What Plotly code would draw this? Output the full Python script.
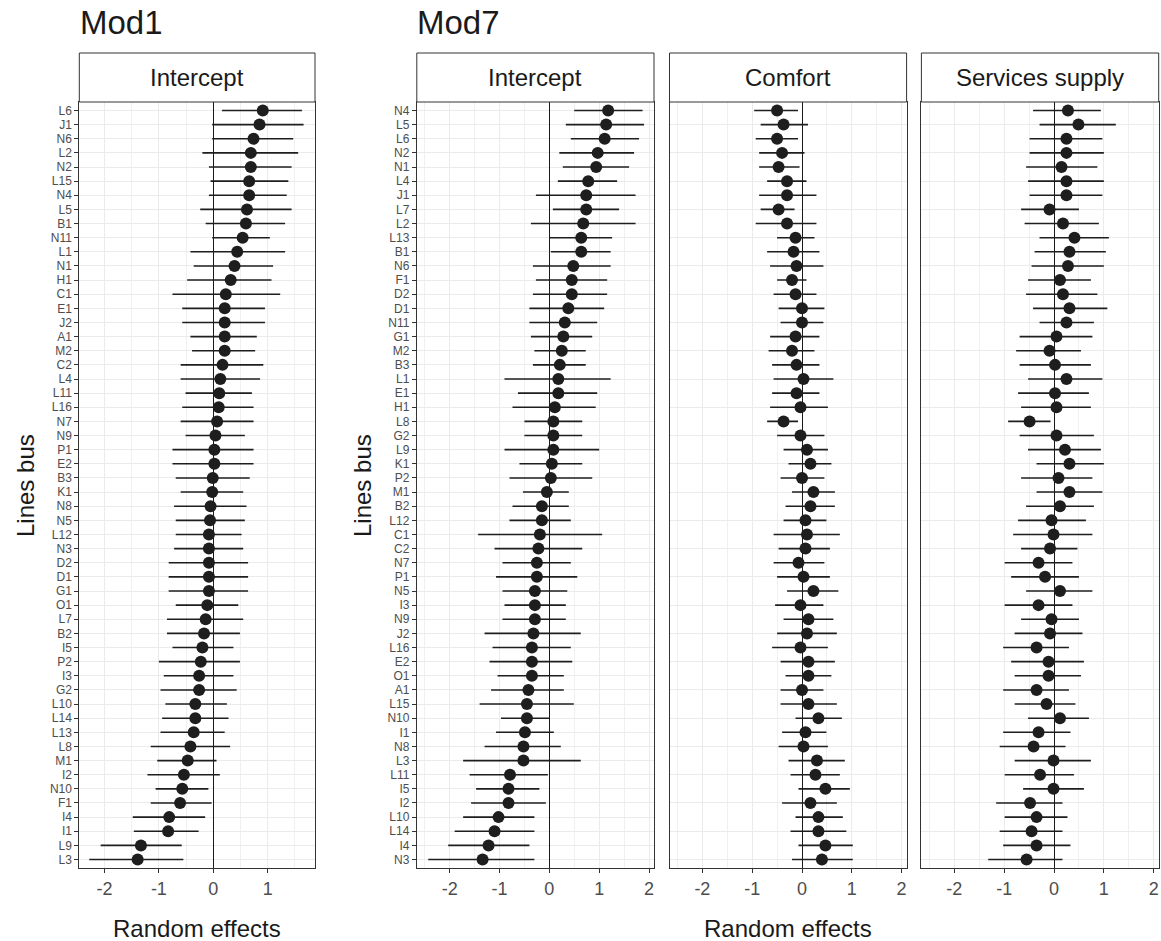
import plotly.graph_objects as go

# ---------------- data ----------------
mod1_lines = ["L6", "J1", "N6", "L2", "N2", "L15", "N4", "L5", "B1", "N11", "L1", "N1", "H1", "C1",
              "E1", "J2", "A1", "M2", "C2", "L4", "L11", "L16", "N7", "N9", "P1", "E2", "B3", "K1",
              "N8", "N5", "L12", "N3", "D2", "D1", "G1", "O1", "L7", "B2", "I5", "P2", "I3", "G2",
              "L10", "L14", "L13", "L8", "M1", "I2", "N10", "F1", "I4", "I1", "L9", "L3"]
mod1_est = [0.91, 0.85, 0.74, 0.69, 0.69, 0.66, 0.66, 0.62, 0.60, 0.54, 0.44, 0.39, 0.32, 0.23,
            0.21, 0.21, 0.21, 0.21, 0.17, 0.13, 0.11, 0.10, 0.07, 0.04, 0.02, 0.02, -0.01, -0.02,
            -0.05, -0.06, -0.08, -0.08, -0.08, -0.08, -0.08, -0.11, -0.14, -0.17, -0.20, -0.23, -0.26, -0.26,
            -0.33, -0.33, -0.36, -0.42, -0.47, -0.54, -0.57, -0.61, -0.81, -0.83, -1.33, -1.39]
mod1_lo = [0.16, -0.02, -0.02, -0.20, -0.08, -0.05, -0.08, -0.24, -0.14, -0.02, -0.42, -0.36, -0.48, -0.75,
           -0.57, -0.57, -0.42, -0.39, -0.60, -0.60, -0.51, -0.57, -0.60, -0.51, -0.75, -0.75, -0.69, -0.60,
           -0.72, -0.69, -0.69, -0.72, -0.82, -0.82, -0.82, -0.69, -0.85, -0.85, -0.75, -1.00, -0.91, -0.97,
           -0.88, -0.94, -0.97, -1.15, -1.03, -1.21, -1.06, -1.15, -1.48, -1.46, -2.07, -2.28]
mod1_hi = [1.63, 1.66, 1.47, 1.56, 1.44, 1.38, 1.35, 1.44, 1.32, 1.04, 1.32, 1.10, 1.07, 1.23,
           0.95, 0.95, 0.80, 0.77, 0.92, 0.86, 0.71, 0.74, 0.74, 0.58, 0.74, 0.74, 0.67, 0.55,
           0.61, 0.58, 0.52, 0.55, 0.64, 0.64, 0.64, 0.46, 0.55, 0.49, 0.37, 0.49, 0.37, 0.43,
           0.25, 0.28, 0.21, 0.31, 0.06, 0.12, -0.09, -0.03, -0.15, -0.27, -0.58, -0.55]

mod7_lines = ["N4", "L5", "L6", "N2", "N1", "L4", "J1", "L7", "L2", "L13", "B1", "N6", "F1", "D2",
              "D1", "N11", "G1", "M2", "B3", "L1", "E1", "H1", "L8", "G2", "L9", "K1", "P2", "M1",
              "B2", "L12", "C1", "C2", "N7", "P1", "N5", "I3", "N9", "J2", "L16", "E2", "O1", "A1",
              "L15", "N10", "I1", "N8", "L3", "L11", "I5", "I2", "L10", "L14", "I4", "N3"]
mod7_int_est = [1.18, 1.14, 1.11, 0.97, 0.94, 0.78, 0.74, 0.74, 0.68, 0.64, 0.64, 0.48, 0.45, 0.45,
                0.38, 0.31, 0.28, 0.25, 0.21, 0.18, 0.18, 0.11, 0.08, 0.08, 0.08, 0.05, 0.03, -0.05,
                -0.15, -0.15, -0.19, -0.22, -0.25, -0.25, -0.29, -0.29, -0.29, -0.32, -0.35, -0.35, -0.35, -0.42,
                -0.45, -0.45, -0.49, -0.52, -0.52, -0.79, -0.82, -0.82, -1.02, -1.10, -1.22, -1.34]
mod7_int_lo = [0.50, 0.33, 0.43, 0.20, 0.27, 0.17, -0.27, 0.07, -0.37, 0.01, 0.03, -0.33, -0.27, -0.33,
               -0.40, -0.40, -0.37, -0.30, -0.33, -0.90, -0.63, -0.74, -0.50, -0.50, -0.90, -0.60, -0.80, -0.53,
               -0.74, -0.80, -1.43, -1.10, -0.94, -1.07, -0.94, -0.90, -0.94, -1.30, -1.14, -1.20, -1.04, -1.17,
               -1.40, -0.97, -1.07, -1.30, -1.73, -1.60, -1.47, -1.57, -1.73, -1.90, -2.03, -2.43]
mod7_int_hi = [1.87, 1.90, 1.80, 1.70, 1.60, 1.36, 1.73, 1.40, 1.73, 1.26, 1.23, 1.23, 1.16, 1.16,
               1.10, 0.96, 0.86, 0.73, 0.73, 1.23, 0.96, 0.93, 0.66, 0.66, 1.00, 0.66, 0.86, 0.39,
               0.39, 0.43, 1.06, 0.66, 0.43, 0.56, 0.36, 0.33, 0.33, 0.63, 0.43, 0.46, 0.29, 0.29,
               0.49, 0.00, 0.09, 0.23, 0.63, -0.03, -0.20, -0.07, -0.30, -0.30, -0.40, -0.30]

mod7_com_est = [-0.50, -0.37, -0.50, -0.40, -0.47, -0.30, -0.30, -0.47, -0.30, -0.13, -0.17, -0.11, -0.20, -0.13,
                0.00, 0.00, -0.13, -0.20, -0.11, 0.03, -0.11, -0.03, -0.37, -0.03, 0.10, 0.17, 0.00, 0.23,
                0.17, 0.07, 0.10, 0.07, -0.07, 0.03, 0.23, -0.03, 0.13, 0.10, -0.03, 0.13, 0.13, 0.00,
                0.13, 0.33, 0.07, 0.03, 0.30, 0.27, 0.47, 0.17, 0.33, 0.33, 0.47, 0.40]
mod7_com_lo = [-0.96, -0.83, -0.93, -0.86, -0.86, -0.70, -0.86, -0.83, -0.93, -0.50, -0.70, -0.64, -0.50, -0.57,
               -0.47, -0.43, -0.64, -0.67, -0.60, -0.57, -0.60, -0.64, -0.70, -0.50, -0.37, -0.27, -0.43, -0.20,
               -0.33, -0.37, -0.57, -0.47, -0.57, -0.50, -0.30, -0.54, -0.37, -0.50, -0.60, -0.43, -0.33, -0.43,
               -0.43, -0.13, -0.40, -0.47, -0.27, -0.23, -0.07, -0.40, -0.13, -0.23, -0.07, -0.20]
mod7_com_hi = [-0.08, 0.12, -0.08, 0.05, -0.05, 0.09, 0.29, -0.15, 0.29, 0.25, 0.35, 0.43, 0.09, 0.29,
               0.45, 0.43, 0.35, 0.25, 0.35, 0.63, 0.35, 0.52, -0.08, 0.45, 0.52, 0.59, 0.45, 0.66,
               0.66, 0.49, 0.76, 0.56, 0.45, 0.56, 0.73, 0.43, 0.63, 0.70, 0.52, 0.66, 0.59, 0.43,
               0.70, 0.80, 0.49, 0.52, 0.86, 0.76, 0.96, 0.70, 0.82, 0.89, 1.02, 1.02]

mod7_ser_est = [0.28, 0.49, 0.25, 0.25, 0.15, 0.25, 0.25, -0.09, 0.18, 0.41, 0.31, 0.28, 0.12, 0.18,
                0.31, 0.25, 0.05, -0.09, 0.02, 0.25, 0.02, 0.05, -0.49, 0.05, 0.22, 0.31, 0.09, 0.31,
                0.12, -0.05, -0.01, -0.08, -0.31, -0.18, 0.12, -0.31, -0.05, -0.08, -0.35, -0.11, -0.11, -0.35,
                -0.15, 0.12, -0.31, -0.41, -0.01, -0.28, -0.01, -0.48, -0.35, -0.45, -0.35, -0.55]
mod7_ser_lo = [-0.42, -0.29, -0.49, -0.49, -0.56, -0.52, -0.49, -0.66, -0.59, -0.29, -0.39, -0.45, -0.52, -0.56,
               -0.42, -0.29, -0.69, -0.76, -0.69, -0.52, -0.72, -0.66, -0.92, -0.69, -0.52, -0.35, -0.66, -0.35,
               -0.56, -0.72, -0.82, -0.66, -0.99, -0.86, -0.56, -0.99, -0.66, -0.79, -1.02, -0.86, -0.79, -1.02,
               -0.79, -0.52, -1.02, -1.09, -0.79, -0.99, -0.62, -1.16, -0.99, -1.09, -1.02, -1.32]
mod7_ser_hi = [0.94, 1.24, 0.97, 1.00, 0.87, 1.00, 0.97, 0.50, 0.90, 1.10, 1.04, 1.00, 0.74, 0.87,
               1.07, 0.80, 0.77, 0.54, 0.74, 0.97, 0.70, 0.74, -0.07, 0.80, 0.94, 1.00, 0.77, 0.97,
               0.80, 0.64, 0.77, 0.47, 0.37, 0.50, 0.77, 0.37, 0.50, 0.57, 0.30, 0.60, 0.54, 0.30,
               0.43, 0.70, 0.33, 0.23, 0.74, 0.40, 0.60, 0.17, 0.27, 0.17, 0.33, 0.17]

x_ticks = [-2, -1, 0, 1, 2]
strip_labels = ["Intercept", "Intercept", "Comfort", "Services supply"]
titles = ["Mod1", "Mod7"]
x_title = "Random effects"
y_title = "Lines bus"

# ---------------- layout geometry (pixels) ----------------
W, H = 1161, 941
panels = [(79.3, 315.0), (416.8, 654.0), (669.5, 906.6), (921.4, 1158.7)]
P_TOP, P_BOT = 102, 868
STRIP_TOP = 53
x_ranges = [[-2.463, 1.87], [-2.66, 2.10], [-2.66, 2.10], [-2.66, 2.10]]


def fx(p):
    return p / W


def fy(p):
    return 1 - p / H


FONT = "Liberation Sans, Arial, sans-serif"
DOT = "#1E1E1E"
GRID = "#EBEBEB"
BORDER = "#333333"
TICKC = "#4D4D4D"

fig = go.Figure()

series = [
    (mod1_lines, mod1_est, mod1_lo, mod1_hi),
    (mod7_lines, mod7_int_est, mod7_int_lo, mod7_int_hi),
    (mod7_lines, mod7_com_est, mod7_com_lo, mod7_com_hi),
    (mod7_lines, mod7_ser_est, mod7_ser_lo, mod7_ser_hi),
]

for i, (cats, est, lo, hi) in enumerate(series):
    n = i + 1
    plus = [h - e for h, e in zip(hi, est)]
    minus = [e - l for e, l in zip(est, lo)]
    fig.add_trace(go.Scatter(
        x=est, y=cats, mode="markers",
        marker=dict(size=12, color=DOT),
        error_x=dict(type="data", symmetric=False, array=plus, arrayminus=minus,
                     color=DOT, thickness=1.6, width=0),
        xaxis="x" if n == 1 else f"x{n}",
        yaxis="y" if n == 1 else f"y{n}",
        showlegend=False, hoverinfo="x+y",
    ))

layout = dict(
    width=W, height=H,
    margin=dict(l=0, r=0, t=0, b=0),
    paper_bgcolor="white", plot_bgcolor="white",
    font=dict(family=FONT, color="#1A1A1A"),
    showlegend=False,
)

for i, ((x0, x1), rng) in enumerate(zip(panels, x_ranges)):
    n = i + 1
    xk = "xaxis" if n == 1 else f"xaxis{n}"
    yk = "yaxis" if n == 1 else f"yaxis{n}"
    cats = series[i][0]
    layout[xk] = dict(
        domain=[fx(x0), fx(x1)], anchor="y" if n == 1 else f"y{n}",
        range=rng, tickmode="array", tickvals=x_ticks,
        ticktext=[str(t) if t >= 0 else "-" + str(abs(t)) for t in x_ticks],
        showgrid=True, gridcolor=GRID, gridwidth=1.1,
        minor=dict(dtick=0.5, tick0=0, showgrid=True, gridcolor="#F0F0F0", gridwidth=0.8, ticks=""),
        zeroline=True, zerolinecolor="#1A1A1A", zerolinewidth=1.2,
        showline=True, mirror=True, linecolor=BORDER, linewidth=1,
        ticks="outside", ticklen=4, tickwidth=1, tickcolor=BORDER,
        tickfont=dict(size=18, color=TICKC, family=FONT),
        fixedrange=True,
    )
    ydict = dict(
        domain=[fy(P_BOT), fy(P_TOP)], anchor="x" if n == 1 else f"x{n}",
        type="category", categoryorder="array", categoryarray=list(reversed(cats)),
        range=[-0.6, len(cats) - 0.4],
        showgrid=True, gridcolor=GRID, gridwidth=1.1, zeroline=False,
        showline=True, mirror=True, linecolor=BORDER, linewidth=1,
        fixedrange=True,
    )
    if n in (1, 2):
        ydict.update(ticks="outside", ticklen=4, tickwidth=1, tickcolor=BORDER,
                     tickfont=dict(size=12, color=TICKC, family=FONT), showticklabels=True)
    else:
        ydict.update(ticks="", showticklabels=False, matches="y2")
    layout[yk] = ydict

fig.update_layout(**layout)

shapes = []
annotations = []
for (x0, x1), lab in zip(panels, strip_labels):
    shapes.append(dict(type="rect", xref="paper", yref="paper",
                       x0=fx(x0), x1=fx(x1), y0=fy(P_TOP), y1=fy(STRIP_TOP),
                       line=dict(color=BORDER, width=1), fillcolor="white", layer="above"))
    annotations.append(dict(text=lab, xref="paper", yref="paper", x=fx((x0 + x1) / 2),
                            y=fy((STRIP_TOP + P_TOP) / 2),
                            xanchor="center", yanchor="middle", showarrow=False,
                            font=dict(size=24, color="#1A1A1A", family=FONT)))

# group titles
for t, xpx in zip(titles, [80, 416.5]):
    annotations.append(dict(text=t, xref="paper", yref="paper", x=fx(xpx - 2), y=fy(23),
                            xanchor="left", yanchor="middle", showarrow=False,
                            font=dict(size=33, color="#1A1A1A", family=FONT)))

# axis titles
for xc in [(panels[0][0] + panels[0][1]) / 2, (panels[1][0] + panels[3][1]) / 2]:
    annotations.append(dict(text=x_title, xref="paper", yref="paper", x=fx(xc), y=fy(928),
                            xanchor="center", yanchor="middle", showarrow=False,
                            font=dict(size=24, color="#1A1A1A", family=FONT)))
for xc in [25, 362]:
    annotations.append(dict(text=y_title, xref="paper", yref="paper", x=fx(xc), y=fy(486),
                            xanchor="center", yanchor="middle", showarrow=False, textangle=-90,
                            font=dict(size=24, color="#1A1A1A", family=FONT)))

fig.update_layout(shapes=shapes, annotations=annotations)
fig.write_html(
    "out.html",
    config={"displayModeBar": False},
    post_script="document.body.style.margin='0px';document.body.style.overflow='hidden';",
)
